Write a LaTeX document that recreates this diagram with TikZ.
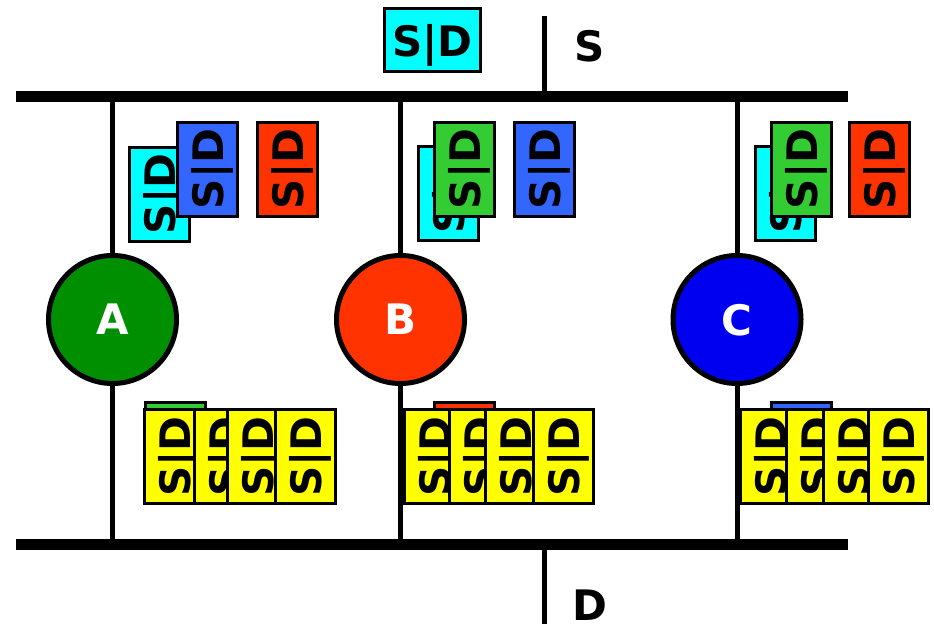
\documentclass[tikz,border=0pt]{standalone}
\usepackage{fontspec}
\setmainfont{DejaVu Sans}
\usetikzlibrary{positioning}
\definecolor{camgobegi}{HTML}{00FFFF}
\definecolor{kutuMavi}{HTML}{3366FF}
\definecolor{kutuKirmizi}{HTML}{FF3300}
\definecolor{kutuYesil}{HTML}{33CC33}
\definecolor{sari}{HTML}{FFFF00}
\definecolor{dugumYesil}{HTML}{008F00}
\definecolor{dugumMavi}{HTML}{0000F0}

\begin{document}
\begin{tikzpicture}[x=1pt, y=-1pt,
  every node/.style={font=\bfseries\fontsize{42}{42}\selectfont},
  sid/.style={draw=black,line width=3pt,inner sep=0pt,text depth=0pt},
  dikey/.style={sid,rotate=90,minimum width=94pt,minimum height=60pt},
  istasyon/.style={circle,draw=black,line width=5pt,minimum size=128pt,
                   inner sep=0pt,text=white,text depth=0pt},
  hat/.style={line width=5pt},
  yol/.style={line width=11pt}]
\useasboundingbox (0,0) rectangle (934,624);

% istasyonlar
\node[istasyon,fill=dugumYesil] (a) at (112.5,319.5) {A};
\node[istasyon,fill=kutuKirmizi] (b) at (400.5,319.5) {B};
\node[istasyon,fill=dugumMavi] (c) at (737,319.5) {C};

% iki ana hat ve uclari
\coordinate (sBasi) at (16,96);  \coordinate (sSonu) at (848,96);
\coordinate (dBasi) at (16,544); \coordinate (dSonu) at (848,544);
\coordinate (sUcu) at (544.5,16); \coordinate (sBag) at (544.5,96);
\coordinate (dBag) at (544.5,544); \coordinate (dUcu) at (544.5,624);
\foreach \n/\x in {a/112.5, b/400.5, c/737} {
  \coordinate (\n ust) at (\x,96);
  \coordinate (\n alt) at (\x,544);
}
\foreach \n in {a,b,c} {
  \draw[hat] (\n ust) -- (\n.north);
  \draw[hat] (\n.south) -- (\n alt);
}
\draw[hat] (sUcu) -- (sBag);
\draw[hat] (dBag) -- (dUcu);
\draw[yol] (sBasi) -- (sSonu);
\draw[yol] (dBasi) -- (dSonu);
\node (sEtiket) at (590,46) {S};
\node (dEtiket) at (589.5,605) {D};

% ustteki cerceve
\node[sid,fill=camgobegi,minimum width=96pt,minimum height=63pt] (ust) at (432.5,40) {S|D};

% A kuyrugu
\node[dikey,fill=camgobegi] (a1) at (159.5,194) {S|D};
\node[dikey,fill=kutuMavi] (a2) at (207,169) {S|D};
\node[dikey,fill=kutuKirmizi] (a3) at (287,169) {S|D};
\node[dikey,fill=kutuYesil] (a0) at (175,449) {S|D};
\foreach \x [count=\i] in {174,224,257,305}
  \node[dikey,fill=sari] (ay\i) at (\x,456.5) {S|D};

% B kuyrugu
\node[dikey,fill=camgobegi] (b1) at (448.5,193) {S|D};
\node[dikey,fill=kutuYesil] (b2) at (464.5,169) {S|D};
\node[dikey,fill=kutuMavi] (b3) at (544.5,169) {S|D};
\node[dikey,fill=kutuKirmizi] (b0) at (464.5,449) {S|D};
\foreach \x [count=\i] in {434,479,515,563}
  \node[dikey,fill=sari] (by\i) at (\x,456.5) {S|D};

% C kuyrugu
\node[dikey,fill=camgobegi] (c1) at (785.5,193) {S|D};
\node[dikey,fill=kutuYesil] (c2) at (801.5,169) {S|D};
\node[dikey,fill=kutuKirmizi] (c3) at (879,169) {S|D};
\node[dikey,fill=kutuMavi] (c0) at (801.5,449) {S|D};
\foreach \x [count=\i] in {770,816,853,898}
  \node[dikey,fill=sari] (cy\i) at (\x,456.5) {S|D};
\end{tikzpicture}
\end{document}
